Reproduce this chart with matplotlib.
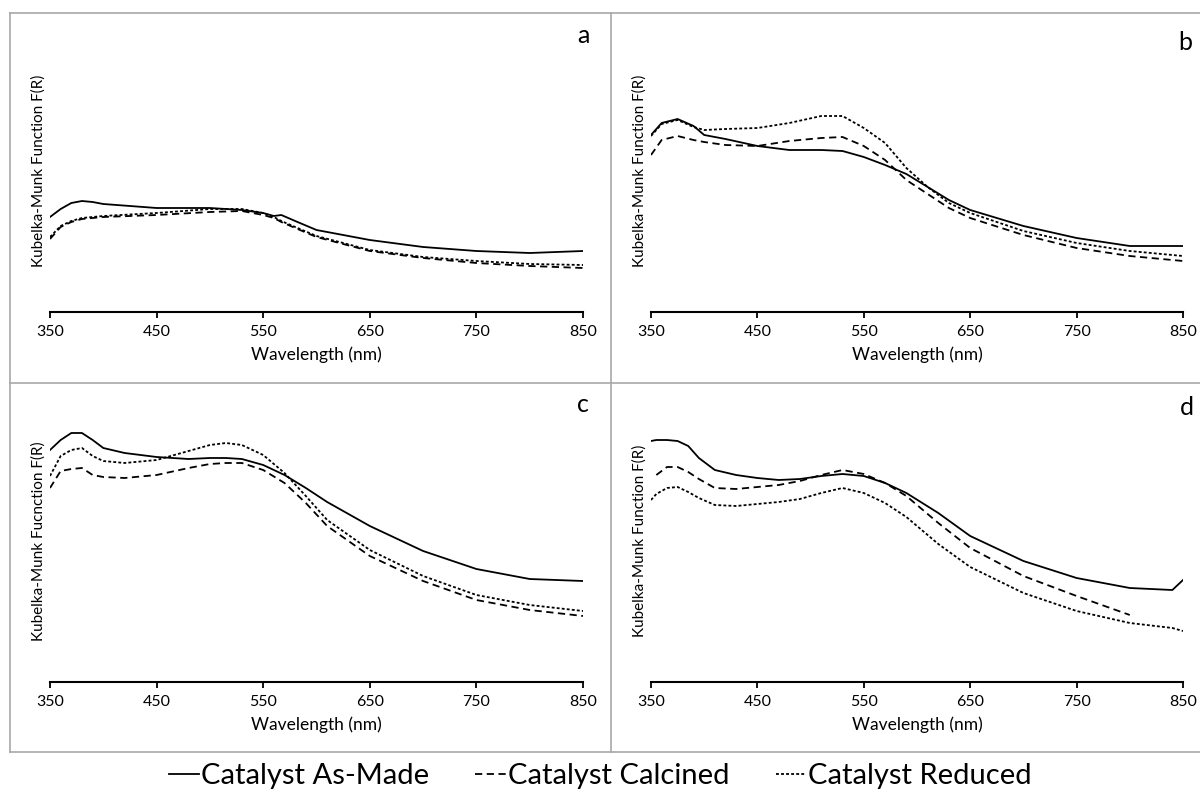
import matplotlib
matplotlib.use("Agg")
import matplotlib.pyplot as plt
import numpy as np
from matplotlib.lines import Line2D

plt.rcParams['font.family'] = ['Lato', 'DejaVu Sans']

# wavelength grids (nm) and Kubelka-Munk values (arbitrary units)
wl_a = [350, 360, 370, 380, 390, 400, 450, 500, 530, 550, 560, 567, 580, 600, 650, 700, 750, 800, 850]
made_a = [0.95, 1.03, 1.09, 1.11, 1.10, 1.08, 1.04, 1.04, 1.02, 0.99, 0.96, 0.97, 0.91, 0.82, 0.72, 0.65, 0.61, 0.59, 0.61]
calc_a = [0.73, 0.85, 0.90, 0.93, 0.94, 0.95, 0.97, 1.00, 1.01, 0.97, 0.94, 0.90, 0.84, 0.75, 0.61, 0.54, 0.49, 0.46, 0.44]
red_a = [0.75, 0.86, 0.91, 0.94, 0.95, 0.96, 0.99, 1.03, 1.03, 0.99, 0.95, 0.91, 0.85, 0.76, 0.62, 0.55, 0.51, 0.48, 0.47]

wl_b = [350, 360, 375, 390, 400, 420, 450, 480, 510, 530, 550, 570, 590, 610, 630, 650, 700, 750, 800, 850]
made_b = [1.77, 1.89, 1.93, 1.86, 1.77, 1.73, 1.66, 1.62, 1.62, 1.61, 1.55, 1.47, 1.38, 1.25, 1.12, 1.02, 0.86, 0.74, 0.66, 0.66]
calc_b = [1.57, 1.72, 1.76, 1.72, 1.70, 1.67, 1.66, 1.71, 1.74, 1.75, 1.66, 1.52, 1.32, 1.18, 1.04, 0.94, 0.77, 0.64, 0.56, 0.51]
red_b = [1.76, 1.88, 1.92, 1.85, 1.82, 1.83, 1.84, 1.89, 1.96, 1.96, 1.84, 1.69, 1.44, 1.25, 1.09, 0.99, 0.81, 0.69, 0.61, 0.56]

wl_c = [350, 360, 370, 380, 390, 400, 420, 450, 480, 500, 515, 530, 550, 570, 590, 610, 650, 700, 750, 800, 850]
made_c = [2.32, 2.42, 2.49, 2.49, 2.42, 2.34, 2.29, 2.25, 2.23, 2.24, 2.24, 2.23, 2.17, 2.07, 1.94, 1.80, 1.56, 1.31, 1.13, 1.03, 1.01]
calc_c = [1.94, 2.11, 2.13, 2.14, 2.07, 2.05, 2.04, 2.07, 2.14, 2.18, 2.19, 2.19, 2.12, 1.99, 1.79, 1.56, 1.26, 1.01, 0.82, 0.72, 0.66]
red_c = [2.06, 2.26, 2.32, 2.34, 2.26, 2.21, 2.19, 2.22, 2.31, 2.37, 2.39, 2.37, 2.27, 2.09, 1.86, 1.62, 1.32, 1.06, 0.87, 0.77, 0.71]

wl_d = [350, 355, 365, 375, 385, 395, 410, 430, 450, 470, 490, 510, 530, 550, 570, 590, 620, 650, 700, 750, 800, 840, 850]
made_d = [2.41, 2.42, 2.42, 2.41, 2.36, 2.24, 2.12, 2.07, 2.04, 2.02, 2.03, 2.06, 2.08, 2.06, 1.99, 1.89, 1.69, 1.46, 1.21, 1.04, 0.94, 0.92, 1.02]
calc_d = [np.nan, 2.07, 2.15, 2.15, 2.10, 2.03, 1.94, 1.93, 1.95, 1.97, 2.01, 2.07, 2.12, 2.08, 1.99, 1.86, 1.59, 1.34, 1.06, 0.86, 0.67, np.nan, np.nan]
red_d = [1.82, 1.88, 1.94, 1.95, 1.90, 1.84, 1.77, 1.76, 1.78, 1.80, 1.83, 1.89, 1.94, 1.89, 1.79, 1.65, 1.38, 1.15, 0.89, 0.71, 0.59, 0.54, 0.51]

xticks = [350, 450, 550, 650, 750, 850]
series_names = ['Catalyst As-Made', 'Catalyst Calcined', 'Catalyst Reduced']
panel_letters = ['a', 'b', 'c', 'd']
ylabels = ['Kubelka-Munk Function F(R)', 'Kubelka-Munk Function F(R)',
           'Kubelka-Munk Fucnction F(R)', 'Kubelka-Munk Function F(R)']

styles = [dict(linestyle='-', linewidth=1.3),
          dict(linestyle=(0, (4, 2.5)), linewidth=1.3),
          dict(linestyle=(0, (1.6, 1.2)), linewidth=1.3)]

W, H = 1200, 792
fig = plt.figure(figsize=(W / 100, H / 100), dpi=100)

def px(x0, y0, x1, y1):
    # pixel box (left, top, right, bottom) -> figure fraction rect
    return [x0 / W, 1 - y1 / H, (x1 - x0) / W, (y1 - y0) / H]

boxes = [(50, 30, 583, 312), (651, 30, 1183, 312), (50, 400, 583, 682), (651, 400, 1183, 682)]
letter_pos = [(583, 43), (1185, 50), (583, 412), (1187, 415)]
data = [(wl_a, made_a, calc_a, red_a), (wl_b, made_b, calc_b, red_b),
        (wl_c, made_c, calc_c, red_c), (wl_d, made_d, calc_d, red_d)]

for i, box in enumerate(boxes):
    ax = fig.add_axes(px(*box))
    wl = data[i][0]
    for s in range(3):
        ax.plot(wl, data[i][s + 1], color='black', **styles[s])
    ax.set_xlim(350, 850)
    ax.set_ylim(0, 2.82)
    ax.set_xticks(xticks)
    ax.set_yticks([])
    for sp in ['left', 'top', 'right']:
        ax.spines[sp].set_visible(False)
    ax.spines['bottom'].set_linewidth(1.5)
    ax.tick_params(axis='x', direction='out', length=4, width=1.3, labelsize=11.5, pad=5)
    ax.set_xlabel('Wavelength (nm)', fontsize=12.5, labelpad=6)
    ax.set_ylabel(ylabels[i], fontsize=11)
    ax.yaxis.set_label_coords(-0.008, 0.5)
    ax.patch.set_alpha(0)
    lx, ly = letter_pos[i]
    fig.text(lx / W, 1 - ly / H, panel_letters[i], fontsize=18, ha='center', va='baseline')

# grey frame lines between panels
grey = '#a8a8a8'
frame = [((10, 1200), (13, 13)), ((10, 1200), (383, 383)), ((10, 1200), (752, 752)),
         ((10, 10), (13, 752)), ((611, 611), (13, 752))]
for xs, ys in frame:
    fig.add_artist(Line2D([x / W for x in xs], [1 - y / H for y in ys], color=grey, linewidth=1.2))

handles = [Line2D([], [], color='black', **styles[s]) for s in range(3)]
fig.legend(handles, series_names, loc='center', bbox_to_anchor=(0.5, 1 - 776 / H), ncol=3,
           frameon=False, fontsize=21, handlelength=1.05, handletextpad=0.05, columnspacing=1.6)

fig.savefig('out.png', dpi=100)
